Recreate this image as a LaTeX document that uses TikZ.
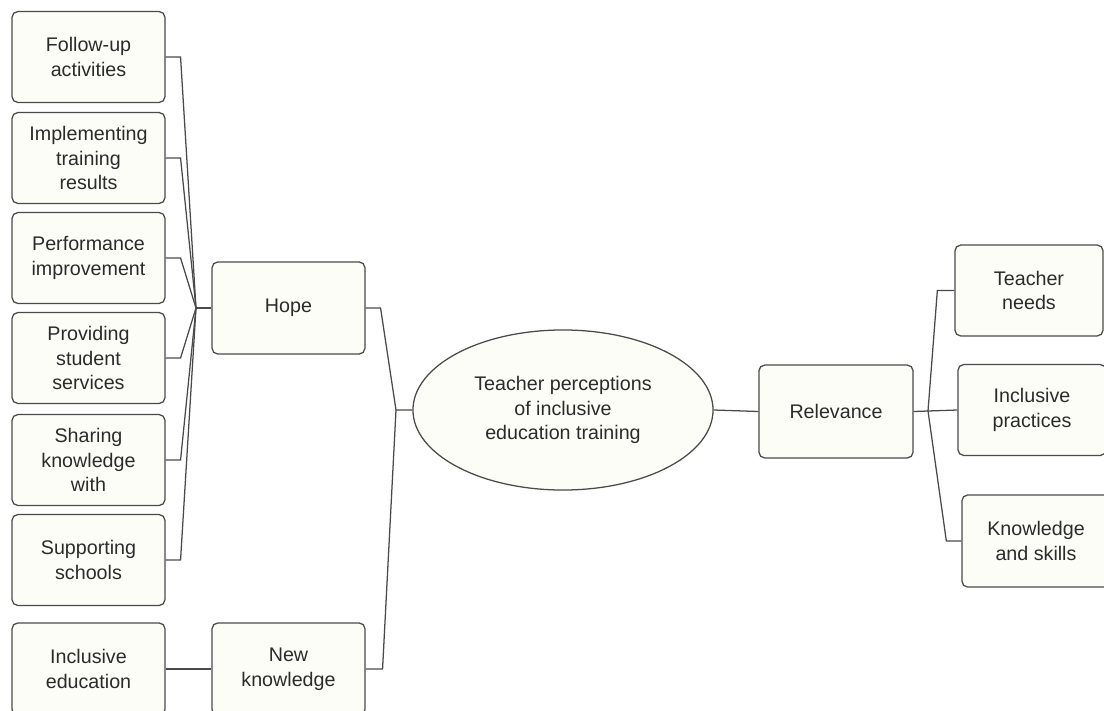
\documentclass[tikz,border=0pt]{standalone}
\usepackage{fontspec}
\setmainfont{Liberation Sans}
\usetikzlibrary{shapes.geometric}
\definecolor{boxfill}{HTML}{FDFDF8}
\definecolor{boxline}{HTML}{4A4A4A}
\definecolor{boxtext}{HTML}{2B2B2B}

\begin{document}
\begin{tikzpicture}[x=0.025cm,y=-0.025cm]
        \tikzstyle{every node}=[draw=boxline,fill=boxfill,text=boxtext,line width=0.9pt,align=center,font=\fontsize{14}{17.5}\selectfont]
        \tikzstyle{theme}=[rectangle,rounded corners=4pt,minimum width=3.82cm,minimum height=2.27cm,inner sep=1pt]
        \tikzstyle{sub}=[theme,minimum width=3.7cm]
        \tikzstyle{link}=[draw=boxline,line width=0.9pt]
        \clip (0,0) rectangle (1104,710);
        % left column
        \node[theme] (follow) at (88.5,57) {Follow-up\\activities};
        \node[theme] (implement) at (88.5,158) {Implementing\\training\\results};
        \node[theme] (perform) at (88.5,258) {Performance\\improvement};
        \node[theme] (services) at (88.5,358) {Providing\\student\\services};
        \node[theme] (sharing) at (88.5,460) {Sharing\\knowledge\\with};
        \node[theme] (support) at (88.5,560) {Supporting\\schools};
        \node[theme,minimum height=2.3cm] (incledu) at (88.5,669) {Inclusive\\education};
        % middle
        \node[theme,minimum height=2.3cm] (hope) at (288.5,308) {Hope};
        \node[theme,minimum height=2.3cm] (newknow) at (288.5,669) {New\\knowledge};
        \node[ellipse,minimum width=7.5cm,minimum height=4cm,inner sep=0pt] (root) at (563,410) {Teacher perceptions\\of inclusive\\education training};
        \node[theme,minimum width=3.85cm,minimum height=2.32cm] (relevance) at (836,411.5) {Relevance};
        % right column
        \node[sub] (needs) at (1029,290.5) {Teacher\\needs};
        \node[sub] (practices) at (1032,410) {Inclusive\\practices};
        \node[sub,minimum height=2.3cm] (skills) at (1036,541) {Knowledge\\and skills};
        % junctions
        \coordinate (hopej) at (196,308);
        \coordinate (rootj) at (396,410);
        \coordinate (relj) at (928,411);
        \foreach \n in {follow,implement,perform,services,sharing,support}
            \draw[link] (\n.east) -- ++(15,0) -- (hopej);
        \draw[link] (hopej) -- (hope.west);
        \draw[link] (hope.east) -- ++(15,0) -- (rootj) -- (root.west);
        \draw[link] (newknow.east) -- ++(17,0) -- (rootj);
        \draw[link] (incledu.east) -- (newknow.west);
        \draw[link] (root.east) -- (relevance.west);
        \draw[link] (relevance.east) -- (relj);
        \draw[link] (needs.west) -- ++(-17,0) -- (relj);
        \draw[link] (practices.west) -- (relj);
        \draw[link] (skills.west) -- ++(-15,0) -- (relj);
    \end{tikzpicture}
\end{document}
